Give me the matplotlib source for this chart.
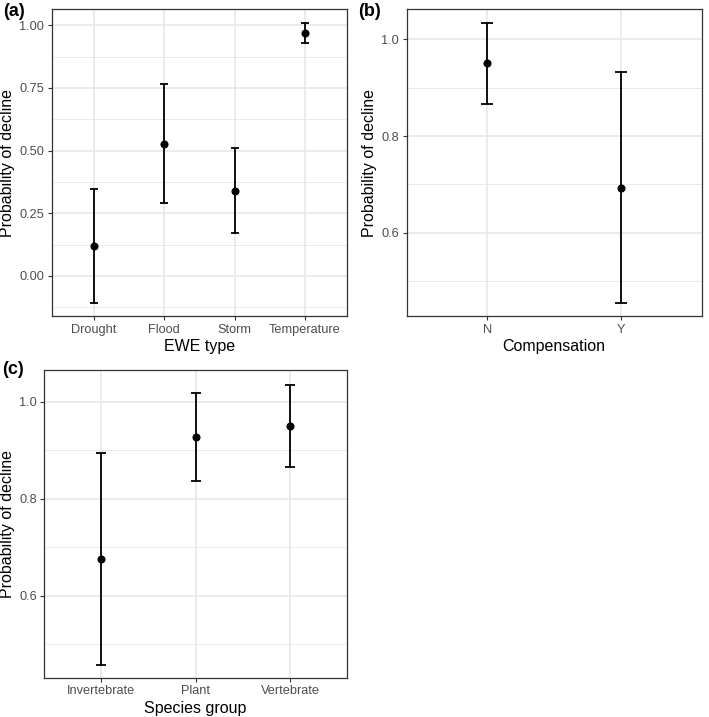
import matplotlib
matplotlib.use("Agg")
import matplotlib.pyplot as plt

plt.rcParams['font.family'] = ['Liberation Sans', 'DejaVu Sans']

# --- data ---
ewe_types = ['Drought', 'Flood', 'Storm', 'Temperature']
ewe_est = [0.120, 0.528, 0.340, 0.970]
ewe_lo = [-0.108, 0.290, 0.172, 0.931]
ewe_hi = [0.347, 0.765, 0.512, 1.009]

comp_levels = ['N', 'Y']
comp_est = [0.950, 0.693]
comp_lo = [0.866, 0.455]
comp_hi = [1.034, 0.932]

species = ['Invertebrate', 'Plant', 'Vertebrate']
sp_est = [0.676, 0.928, 0.950]
sp_lo = [0.457, 0.837, 0.866]
sp_hi = [0.894, 1.018, 1.035]

GRID = '#E6E6E6'
BORDER = '#333333'
TICK_TXT = '#4D4D4D'


def panel(ax, cats, est, lo, hi, xlabel, ylim, major, minor, fmt, cap):
    x = list(range(1, len(cats) + 1))
    yerr = [[e - l for e, l in zip(est, lo)], [h - e for e, h in zip(est, hi)]]
    ax.errorbar(x, est, yerr=yerr, fmt='o', color='black', ms=4.8,
                elinewidth=1.3, capsize=cap, capthick=1.3, zorder=3)
    ax.set_xlim(0.4, len(cats) + 0.6)
    ax.set_ylim(*ylim)
    ax.set_xticks(x)
    ax.set_xticklabels(cats)
    ax.set_yticks(major)
    ax.set_yticklabels([fmt.format(v) for v in major])
    ax.set_yticks(minor, minor=True)
    ax.grid(True, which='major', color=GRID, lw=1.1, zorder=0)
    ax.grid(True, which='minor', axis='y', color=GRID, lw=0.6, zorder=0)
    ax.set_axisbelow(True)
    ax.tick_params(axis='both', which='major', length=3, width=0.8,
                   color=BORDER, labelsize=9.2, labelcolor=TICK_TXT, pad=2.5)
    ax.tick_params(axis='y', which='minor', length=0)
    for s in ax.spines.values():
        s.set_color(BORDER)
        s.set_linewidth(0.9)
    ax.set_xlabel(xlabel, fontsize=11.5, labelpad=2.5)
    ax.set_ylabel('Probability of decline', fontsize=11.5, labelpad=3)


fig = plt.figure(figsize=(7.09, 7.17), dpi=100)
ax_a = fig.add_axes([0.0733, 0.5593, 0.416, 0.4277])
ax_b = fig.add_axes([0.5736, 0.5593, 0.416, 0.4277])
ax_c = fig.add_axes([0.0625, 0.0548, 0.4265, 0.4291])

panel(ax_a, ewe_types, ewe_est, ewe_lo, ewe_hi, 'EWE type', (-0.16, 1.064),
      [0, 0.25, 0.5, 0.75, 1.0], [-0.125, 0.125, 0.375, 0.625, 0.875], '{:.2f}', 2.6)
panel(ax_b, comp_levels, comp_est, comp_lo, comp_hi, 'Compensation', (0.428, 1.062),
      [0.6, 0.8, 1.0], [0.5, 0.7, 0.9], '{:.1f}', 4.3)
panel(ax_c, species, sp_est, sp_lo, sp_hi, 'Species group', (0.431, 1.065),
      [0.6, 0.8, 1.0], [0.5, 0.7, 0.9], '{:.1f}', 3.7)

fig.text(0.005, 0.996, '(a)', fontsize=13, fontweight='bold', va='top', ha='left')
fig.text(0.505, 0.996, '(b)', fontsize=13, fontweight='bold', va='top', ha='left')
fig.text(0.003, 0.497, '(c)', fontsize=13, fontweight='bold', va='top', ha='left')

fig.savefig('out.png', dpi=100)
